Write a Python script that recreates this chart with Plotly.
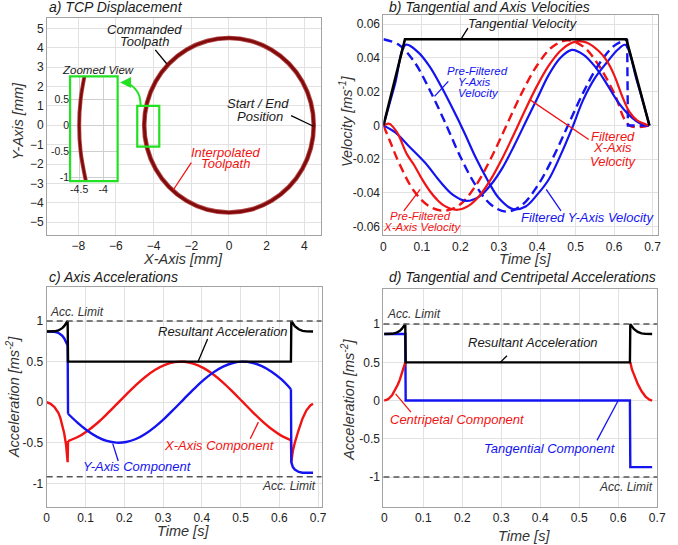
import plotly.graph_objects as go

W, H = 678, 545
FONT = "Liberation Sans, Arial, sans-serif"
RED = "#f01414"
BLUE = "#1414f0"
GREEN = "#22e022"
DARKRED = "#820a0a"

def px(x):
    return x / W

def py(y):
    return 1 - y / H

# ---------------- a) TCP displacement (mm) ----------------
path_x = [4.5, 4.347, 3.897, 3.182, 2.25, 1.165, 0.0, -1.165, -2.25, -3.182, -3.897, -4.347,
          -4.5, -4.347, -3.897, -3.182, -2.25, -1.165, 0.0, 1.165, 2.25, 3.182, 3.897, 4.347, 4.5]
path_y = [0.0, 1.165, 2.25, 3.182, 3.897, 4.347, 4.5, 4.347, 3.897, 3.182, 2.25, 1.165,
          0.0, -1.165, -2.25, -3.182, -3.897, -4.347, -4.5, -4.347, -3.897, -3.182, -2.25, -1.165, 0.0]
zoom_x = [-4.39, -4.47, -4.5, -4.47, -4.36]
zoom_y = [0.95, 0.5, 0.0, -0.5, -1.07]
arrow_x = [-4.69, -4.76, -4.99, -5.36, -5.62]
arrow_y = [1.0, 1.51, 1.89, 2.15, 2.2]
zoom_box_x = [-4.87, -3.7]
zoom_box_y = [-1.1, 1.0]

# ---------------- b) velocities (m/s) ----------------
tan_t = [0, 0.056, 0.632, 0.692]
tan_v = [0, 0.0511, 0.0511, 0]

pfy_t = [0, 0.04, 0.08, 0.12, 0.16, 0.20, 0.24, 0.28, 0.32, 0.36, 0.40, 0.44, 0.48, 0.52, 0.56, 0.60, 0.634]
pfy_v = [0.0511, 0.0478, 0.0378, 0.0212, 0.002, -0.0185, -0.0355, -0.047, -0.0511, -0.0472, -0.0361,
         -0.0196, 0.0, 0.0196, 0.0361, 0.0472, 0.0511]
pfy_end_t = [0.634, 0.636, 0.692]
pfy_end_v = [0.0511, 0.0, 0.0]

pfx_t = [0, 0.02, 0.04, 0.08, 0.12, 0.16, 0.20, 0.24, 0.28, 0.32, 0.36, 0.40, 0.44, 0.48, 0.52,
         0.56, 0.60, 0.64, 0.692]
pfx_v = [0, -0.011, -0.022, -0.039, -0.048, -0.0505, -0.0467, -0.0357, -0.0193, 0.0, 0.0193,
         0.0357, 0.0467, 0.0505, 0.0467, 0.0357, 0.0193, 0.0, 0.0]

fx_t = [0, 0.015, 0.035, 0.061, 0.08, 0.10, 0.12, 0.14, 0.16, 0.19, 0.22, 0.25, 0.28, 0.31, 0.34,
        0.37, 0.40, 0.43, 0.46, 0.49, 0.51, 0.53, 0.56, 0.58, 0.60, 0.62, 0.64, 0.66, 0.69]
fx_v = [0, 0.001, -0.004, -0.017, -0.0236, -0.0317, -0.0387, -0.0441, -0.0478, -0.050, -0.0478,
        -0.0416, -0.0317, -0.0191, -0.0049, 0.0098, 0.0236, 0.0354, 0.0441, 0.049, 0.050, 0.049,
        0.0441, 0.0387, 0.030, 0.018, 0.008, 0.003, 0.0]

fya_t = [0, 0.03, 0.058, 0.09, 0.12, 0.15, 0.18, 0.21, 0.24, 0.27, 0.30, 0.337, 0.37, 0.40, 0.43,
         0.46, 0.49, 0.52, 0.55, 0.58, 0.61, 0.629, 0.66, 0.692]
fya_v = [0, 0.0245, 0.0478, 0.0435, 0.035, 0.0232, 0.010, -0.004, -0.019, -0.032, -0.043, -0.0496,
         -0.048, -0.041, -0.032, -0.018, -0.002, 0.0153, 0.028, 0.037, 0.045, 0.0478, 0.026, 0]

fyb_t = [0, 0.03, 0.065, 0.108, 0.15, 0.18, 0.215, 0.25, 0.28, 0.31, 0.34, 0.37, 0.40, 0.43, 0.46,
         0.49, 0.52, 0.55, 0.58, 0.61, 0.64, 0.67, 0.69]
fyb_v = [0, -0.004, -0.012, -0.022, -0.034, -0.041, -0.0447, -0.042, -0.035, -0.025, -0.012, 0.002,
         0.016, 0.030, 0.040, 0.0448, 0.042, 0.035, 0.025, 0.014, 0.006, 0.001, 0]

# ---------------- c) / d) accelerations (m/s^2) ----------------
limits_c = [1.0, -0.92]
limits_d = [1.0, -1.0]
ramp_t = [0, 0.01, 0.02, 0.03, 0.035, 0.04, 0.045, 0.05, 0.054]
ramp_res = [0.87, 0.870, 0.873, 0.884, 0.895, 0.912, 0.937, 0.970, 1.0]
ramp_ax = [0, -0.02, -0.06, -0.13, -0.19, -0.27, -0.38, -0.53, -0.74]
ramp_ay = [0.87, 0.87, 0.866, 0.854, 0.84, 0.819, 0.788, 0.747, 0.70]
ramp_cen = [0, 0.017, 0.069, 0.154, 0.21, 0.274, 0.347, 0.429, 0.5]
ramp_tan = [0.87, 0.87, 0.87, 0.87, 0.87, 0.87, 0.87, 0.87, 0.87]

mid_t = [0.055, 0.08, 0.105, 0.13, 0.155, 0.18, 0.205, 0.23, 0.255, 0.28, 0.305, 0.33, 0.355,
         0.38, 0.405, 0.43, 0.455, 0.48, 0.505, 0.53, 0.555, 0.58, 0.605, 0.63]
mid_ax = [-0.479, -0.430, -0.355, -0.260, -0.148, -0.028, 0.094, 0.211, 0.314, 0.399, 0.460, 0.494,
          0.498, 0.473, 0.419, 0.340, 0.241, 0.127, 0.006, -0.116, -0.230, -0.331, -0.412, -0.467]
mid_ay = [-0.143, -0.255, -0.352, -0.427, -0.478, -0.499, -0.491, -0.454, -0.389, -0.301, -0.196,
          -0.078, 0.044, 0.163, 0.274, 0.367, 0.438, 0.483, 0.500, 0.486, 0.444, 0.375, 0.283, 0.160]
mid_res = [0.5, 0.5]
mid_res_t = [0.055, 0.63]

end_t = [0.631, 0.635, 0.64, 0.65, 0.66, 0.67, 0.68, 0.687]
end_res = [1.0, 0.966, 0.937, 0.898, 0.879, 0.872, 0.870, 0.87]
end_ax = [-0.74, -0.60, -0.50, -0.34, -0.20, -0.10, -0.04, -0.02]
end_ay = [-0.74, -0.80, -0.83, -0.86, -0.87, -0.87, -0.87, -0.87]
end_cen = [0.5, 0.41, 0.345, 0.218, 0.121, 0.052, 0.012, 0.0]
end_tan = [-0.87, -0.87, -0.87, -0.87, -0.87, -0.87, -0.87, -0.87]

fig = go.Figure()

def line(xa, ya, t, v, color, width=2.4, dash=None, shape="linear"):
    fig.add_trace(go.Scatter(x=t, y=v, xaxis=xa, yaxis=ya, mode="lines",
                             line=dict(color=color, width=width, dash=dash, shape=shape),
                             hoverinfo="skip", showlegend=False))

# ---- a
line("x", "y", path_x, path_y, "#b04848", 4.6, shape="spline")
line("x", "y", path_x, path_y, DARKRED, 2.8, shape="spline")
line("x", "y", arrow_x, arrow_y, GREEN, 2.0, shape="spline")
line("x5", "y5", zoom_x, zoom_y, "#b04848", 4.0, shape="spline")
line("x5", "y5", zoom_x, zoom_y, DARKRED, 2.4, shape="spline")

# ---- b
line("x2", "y2", pfx_t, pfx_v, RED, 2.4, dash="9px,5px", shape="spline")
line("x2", "y2", pfy_t, pfy_v, BLUE, 2.4, dash="9px,5px", shape="spline")
line("x2", "y2", pfy_end_t, pfy_end_v, BLUE, 2.4, dash="9px,5px")
line("x2", "y2", fyb_t, fyb_v, BLUE, 2.2, shape="spline")
line("x2", "y2", fya_t, fya_v, BLUE, 2.2, shape="spline")
line("x2", "y2", fx_t, fx_v, RED, 2.2, shape="spline")
line("x2", "y2", tan_t, tan_v, "black", 2.6)

# ---- c
line("x3", "y3", ramp_t + [mid_t[0]], ramp_ax + [mid_ax[0]], RED)
line("x3", "y3", mid_t, mid_ax, RED, shape="spline")
line("x3", "y3", [mid_t[-1]] + end_t, [mid_ax[-1]] + end_ax, RED)
line("x3", "y3", ramp_t + [mid_t[0]], ramp_ay + [mid_ay[0]], BLUE)
line("x3", "y3", mid_t, mid_ay, BLUE, shape="spline")
line("x3", "y3", [mid_t[-1]] + end_t, [mid_ay[-1]] + end_ay, BLUE)
line("x3", "y3", ramp_t + mid_res_t + end_t, ramp_res + mid_res + end_res, "black")

# ---- d
line("x4", "y4", ramp_t + [mid_t[0]] + [mid_t[-1]] + end_t,
     ramp_tan + [0, 0] + end_tan, BLUE)
line("x4", "y4", ramp_t, ramp_cen, RED)
line("x4", "y4", end_t, end_cen, RED)
line("x4", "y4", ramp_t + mid_res_t + end_t, ramp_res + mid_res + end_res, "black")

# ---------------- axes ----------------
def axis(domain, rng, **kw):
    d = dict(domain=domain, range=rng, showline=True, linecolor="#a3a3a3", linewidth=1,
             mirror=True, showgrid=True, gridcolor="#e2e2e2", gridwidth=1, zeroline=False,
             ticks="", tickfont=dict(family=FONT, size=12, color="#222"))
    d.update(kw)
    return d

acc_ticks = dict(tickvals=[-1, -0.5, 0, 0.5, 1], ticktext=["-1", "-0.5", "0", "0.5", "1"])
time_ticks = dict(tickvals=[0, 0.1, 0.2, 0.3, 0.4, 0.5, 0.6, 0.7],
                  ticktext=["0", "0.1", "0.2", "0.3", "0.4", "0.5", "0.6", "0.7"])

fig.update_layout(
    width=W, height=H, margin=dict(l=0, r=0, t=0, b=0),
    paper_bgcolor="white", plot_bgcolor="white",
    xaxis=axis([px(45), px(324)], [-9.65, 4.9], dtick=2, anchor="y"),
    yaxis=axis([py(235.7), py(18.3)], [-5.65, 5.52], dtick=1, anchor="x"),
    xaxis2=axis([px(387.3), px(666.3)], [0, 0.713], anchor="y2", **time_ticks),
    yaxis2=axis([py(236), py(15)], [-0.065, 0.0655], anchor="x2",
                tickvals=[-0.06, -0.04, -0.02, 0, 0.02, 0.04, 0.06],
                ticktext=["-0.06", "-0.04", "-0.02", "0", "0.02", "0.04", "0.06"]),
    xaxis3=axis([px(44.5), px(324.3)], [0, 0.709], anchor="y3", **time_ticks),
    yaxis3=axis([py(508.7), py(288)], [-1.29, 1.42], anchor="x3", **acc_ticks),
    xaxis4=axis([px(387.3), px(666)], [-0.002, 0.70], anchor="y4", **time_ticks),
    yaxis4=axis([py(508.7), py(290)], [-1.39, 1.46], anchor="x4", **acc_ticks),
    xaxis5=axis([px(68.3), px(116.7)], [-4.69, -3.695], anchor="y5", showline=False,
                gridcolor="#cfcfcf", tickvals=[-4.5, -4], ticktext=["-4.5", "-4"],
                tickfont=dict(family=FONT, size=10.5, color="#222")),
    yaxis5=axis([py(181.7), py(76.7)], [-1.07, 0.95], anchor="x5", showline=False,
                gridcolor="#cfcfcf", tickvals=[0.5, 0, -0.5, -1], ticktext=["0.5", "0", "-0.5", "-1"],
                tickfont=dict(family=FONT, size=10.5, color="#222")),
)

shapes = []
# inset background & border
shapes.append(dict(type="rect", xref="x5 domain", yref="y5 domain", x0=0, x1=1, y0=0, y1=1,
                   fillcolor="#f3f3f3", line=dict(width=0), layer="below"))
shapes.append(dict(type="rect", xref="x5 domain", yref="y5 domain", x0=0, x1=1, y0=0, y1=1,
                   line=dict(color=GREEN, width=2.2), layer="above"))
shapes.append(dict(type="rect", xref="x", yref="y", x0=zoom_box_x[0], x1=zoom_box_x[1],
                   y0=zoom_box_y[0], y1=zoom_box_y[1], line=dict(color=GREEN, width=2.2)))
# acceleration limits
for xa, ya, lims in (("x3", "y3", limits_c), ("x4", "y4", limits_d)):
    for lim in lims:
        shapes.append(dict(type="line", xref=xa + " domain", yref=ya, x0=0, x1=1, y0=lim, y1=lim,
                           line=dict(color="#555", width=1.5, dash="6px,4px")))

def leader(x0, y0, x1, y1, color="black", width=1.3):
    shapes.append(dict(type="line", xref="paper", yref="paper", x0=px(x0), y0=py(y0),
                       x1=px(x1), y1=py(y1), line=dict(color=color, width=width)))

leader(155, 50, 166.7, 64)
leader(293.3, 116, 316, 126.7)
leader(191.7, 163.3, 173.3, 190.7, RED)
leader(473.3, 28.3, 466.3, 39.3)
leader(453.3, 81.7, 439.3, 96.7, BLUE)
leader(596.3, 140, 536.3, 100, RED)
leader(568, 211.7, 553, 190, BLUE)
leader(408, 211.7, 424.7, 190, RED)
leader(208.3, 340.3, 198.3, 363.7)
leader(251.7, 440.3, 260, 423.7, RED)
leader(117.3, 462.7, 111.7, 445.3, BLUE)
leader(513, 357, 506.3, 363.7)
leader(415.3, 413.7, 399.7, 395.3, RED)
leader(604.7, 442, 626.3, 402, BLUE)

fig.update_layout(shapes=shapes)

ann = []

def text(x, y, s, size=13, color="#1a1a1a", xanchor="center", angle=0, italic=True):
    ann.append(dict(x=px(x), y=py(y), xref="paper", yref="paper", text=("<i>%s</i>" % s) if italic else s,
                    showarrow=False, xanchor=xanchor, yanchor="middle", textangle=angle,
                    font=dict(family=FONT, size=size, color=color)))

# titles
text(45, 7, "a) TCP Displacement", 14, xanchor="left")
text(391, 7, "b) Tangential and Axis Velocities", 14, xanchor="left")
text(45, 278, "c) Axis Accelerations", 14, xanchor="left")
text(391, 278, "d) Tangential and Centripetal Accelerations", 14, xanchor="left")
# axis titles
text(183, 259.5, "X-Axis [mm]", 14.5, "#333")
text(16, 121.7, "Y-Axis [mm]", 14.5, "#333", angle=-90)
text(531.3, 259.5, "Time [s]", 14.5, "#333")
text(349, 121.7, "Velocity [ms<sup>-1</sup>]", 14.5, "#333", angle=-90)
text(183.3, 533, "Time [s]", 14.5, "#333")
text(10, 398.7, "Acceleration [ms<sup>-2</sup>]", 14.5, "#333", angle=-90)
text(530, 537.5, "Time [s]", 14.5, "#333")
text(350.5, 401, "Acceleration [ms<sup>-2</sup>]", 14.5, "#333", angle=-90)
# panel a labels
text(144, 30, "Commanded", 13)
text(144.5, 41.7, "Toolpath", 13)
text(259.5, 104.3, "Start / End", 13)
text(261.7, 116.7, "Position", 13)
text(226.7, 152.7, "Interpolated", 13, RED)
text(226.7, 164.3, "Toolpath", 13, RED)
text(96.7, 70, "Zoomed View", 11.5)
# panel b labels
text(529.7, 23.3, "Tangential Velocity", 13)
text(483, 71.7, "Pre-Filtered", 11.5, BLUE)
text(479.7, 82.7, "Y-Axis", 11.5, BLUE)
text(484, 93.3, "Velocity", 11.5, BLUE)
text(620.5, 136.7, "Filtered", 13, RED)
text(620.5, 148.3, "X-Axis", 13, RED)
text(621.3, 161.7, "Velocity", 13, RED)
text(595.5, 218.3, "Filtered Y-Axis Velocity", 13, BLUE)
text(425.5, 216.7, "Pre-Filtered", 11.5, RED)
text(427.2, 228.3, "X-Axis Velocity", 11.5, RED)
# panel c labels
text(75, 312.7, "Acc. Limit", 12, "#333")
text(290.8, 488, "Acc. Limit", 12, "#333")
text(224.2, 332.7, "Resultant Acceleration", 13)
text(220, 447, "X-Axis Component", 13, RED)
text(136.7, 468.7, "Y-Axis Component", 13, BLUE)
# panel d labels
text(418, 315.3, "Acc. Limit", 12, "#333")
text(634.7, 488.7, "Acc. Limit", 12, "#333")
text(539.7, 343.7, "Resultant Acceleration", 13)
text(462.2, 421, "Centripetal Component", 13, RED)
text(557.2, 450.3, "Tangential Component", 13, BLUE)

# green arrow head
ann.append(dict(x=-5.78, y=2.2, ax=-5.45, ay=2.2, xref="x", yref="y", axref="x", ayref="y",
                text="", showarrow=True, arrowhead=2, arrowsize=1.1, arrowwidth=2, arrowcolor=GREEN))

fig.update_layout(annotations=ann)
fig.write_html("out.html")
